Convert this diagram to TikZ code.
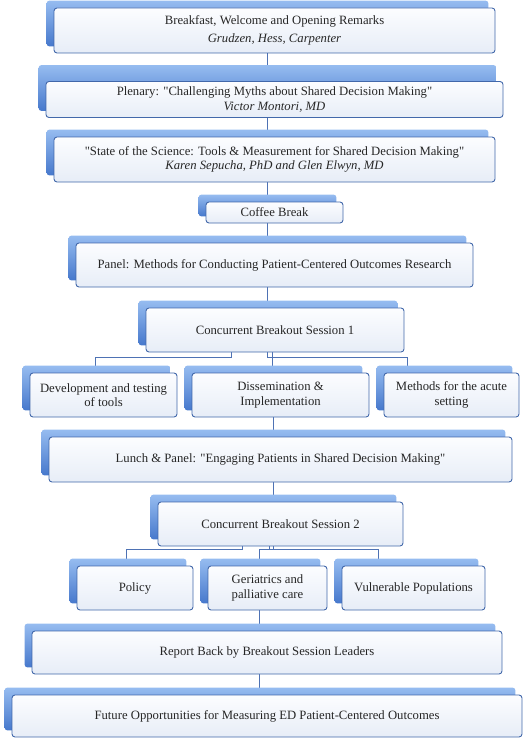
\documentclass[tikz,border=0pt]{standalone}
\usepackage{fontspec}
\setmainfont{Liberation Serif}
\usetikzlibrary{positioning}

\definecolor{cardline}{RGB}{66,104,170}
\definecolor{cardtop}{RGB}{252,253,255}
\definecolor{cardbot}{RGB}{231,237,247}
\definecolor{backlight}{RGB}{150,188,240}
\definecolor{backdark}{RGB}{70,120,204}
\definecolor{linkcol}{RGB}{78,114,180}

\pgfdeclarelayer{bg}
\pgfdeclarelayer{wires}
\pgfsetlayers{wires,bg,main}

\newcommand{\dq}{\textquotedbl}

\tikzset{
  card/.style={draw=cardline, line width=0.9pt, rounded corners=3pt,
    top color=cardtop, bottom color=cardbot, inner sep=0pt, align=center,
    text=black!85, font=\fontsize{12.7}{14.5}\selectfont},
  cardback/.style={rounded corners=3pt, top color=backlight, bottom color=backdark},
  link/.style={draw=linkcol, line width=0.9pt}
}

\begin{document}
\begin{tikzpicture}[x=1pt, y=1pt]
\useasboundingbox (0,0) rectangle (528,-741);

% main column
\node[card, minimum width=441, minimum height=45] (brk) at (274.5,-30.5)
  {Breakfast, Welcome and Opening Remarks\\[3pt]\textit{Grudzen, Hess, Carpenter}};
\node[card, minimum width=457, minimum height=36] (plen) at (274.5,-99.5)
  {Plenary: \dq Challenging Myths about Shared Decision Making\dq\\\textit{Victor Montori, MD}};
\node[card, minimum width=441, minimum height=45] (sci) at (274.5,-159.5)
  {\dq State of the Science: Tools \& Measurement for Shared Decision Making\dq\\\textit{Karen Sepucha, PhD and Glen Elwyn, MD}};
\node[card, minimum width=137, minimum height=21] (cof) at (274.5,-212.5) {Coffee Break};
\node[card, minimum width=397, minimum height=44] (pan) at (274.5,-265)
  {Panel: Methods for Conducting Patient-Centered Outcomes Research};

% session 1
\node[card, minimum width=258, minimum height=44] (ses1) at (275,-330) {Concurrent Breakout Session 1};
\node[card, minimum width=147, minimum height=44] (dev) at (103.5,-395) {Development and testing\\of tools};
\node[card, minimum width=177, minimum height=44] (dis) at (280.5,-395) {Dissemination \&\\Implementation};
\node[card, minimum width=135, minimum height=44] (acu) at (451.5,-395) {Methods for the acute\\setting};

\node[card, minimum width=463, minimum height=45] (lun) at (280.5,-459.5)
  {Lunch \& Panel: \dq Engaging Patients in Shared Decision Making\dq};

% session 2
\node[card, minimum width=245, minimum height=44] (ses2) at (280.5,-524) {Concurrent Breakout Session 2};
\node[card, minimum width=116, minimum height=44] (pol) at (135,-588) {Policy};
\node[card, minimum width=119, minimum height=44] (ger) at (267.5,-588) {Geriatrics and\\palliative care};
\node[card, minimum width=143, minimum height=44] (vul) at (413.5,-588) {Vulnerable Populations};

\node[card, minimum width=470, minimum height=43] (rep) at (267,-652.5) {Report Back by Breakout Session Leaders};
\node[card, minimum width=510, minimum height=42] (fut) at (267,-716)
  {Future Opportunities for Measuring ED Patient-Centered Outcomes};

% blue backs
\begin{pgfonlayer}{bg}
\foreach \n/\t in {brk/0,plen/9,sci/0,cof/0,pan/0,ses1/0,dev/0,dis/0,acu/0,
                   lun/0,ses2/0,pol/0,ger/0,vul/0,rep/0,fut/0}
  \shade[cardback] ([shift={(-7,{7+\t})}]\n.north west) rectangle ([shift={(-7,7)}]\n.south east);
\end{pgfonlayer}

% connectors
\begin{pgfonlayer}{wires}
\foreach \a/\b in {brk/plen,plen/sci,sci/cof,cof/pan,pan/ses1}
  \draw[link] ([xshift=-7.5]\a.south) -- ([xshift=-7.5]\a.south |- \b.north);
\draw[link] ([xshift=-44]ses1.south) -- ++(0,-5) -| ([xshift=-8]dev.north);
\draw[link] ([xshift=-8]ses1.south) -- ++(0,-5) -| ([xshift=-8]dis.north);
\draw[link] ([xshift=-3]ses1.south) -- ++(0,-5) -| ([xshift=-44]acu.north);
\draw[link] ([xshift=-7.5]dis.south) -- ([xshift=-7.5]dis.south |- lun.north);
\draw[link] ([xshift=-7.5]lun.south) -- ([xshift=-7.5]lun.south |- ses2.north);
\draw[link] ([xshift=-38.5]ses2.south) -- ++(0,-3) -| ([xshift=-8.5]pol.north);
\draw[link] ([xshift=-7.5]ses2.south) -- ++(0,-3) -| ([xshift=-8.5]ger.north);
\draw[link] ([xshift=-11.5]ses2.south) -- ++(0,-3) -| ([xshift=-35.5]vul.north);
\draw[link] ([xshift=-8.5]ger.south) -- ([xshift=-8.5]ger.south |- rep.north);
\draw[link] ([xshift=-8]rep.south) -- ([xshift=-8]rep.south |- fut.north);
\end{pgfonlayer}
\end{tikzpicture}
\end{document}
